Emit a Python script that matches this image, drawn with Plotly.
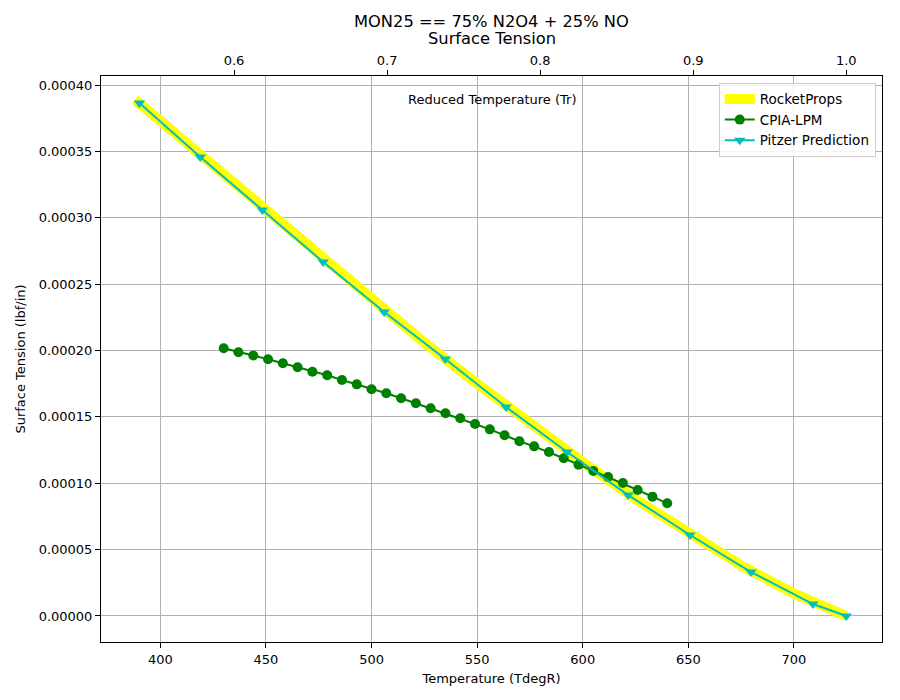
import plotly.graph_objects as go

Tc = 724.8  # critical temperature, degR

# RocketProps curve
rp_T = [388.0, 400.0, 425.0, 450.0, 475.0, 500.0, 525.0, 550.0, 575.0, 600.0, 625.0, 650.0, 675.0, 700.0, 724.8]
rp_st = [3.89e-4, 3.73e-4, 3.39e-4, 3.05e-4, 2.71e-4, 2.38e-4, 2.06e-4, 1.75e-4, 1.45e-4, 1.16e-4,
         8.8e-5, 6.2e-5, 3.8e-5, 1.7e-5, 0.0]

# CPIA-LPM data
cpia_T = [430, 437, 444, 451, 458, 465, 472, 479, 486, 493, 500, 507, 514, 521, 528, 535,
          542, 549, 556, 563, 570, 577, 584, 591, 598, 605, 612, 619, 626, 633, 640]
cpia_st = [2.017e-4, 1.987e-4, 1.962e-4, 1.934e-4, 1.904e-4, 1.874e-4, 1.840e-4, 1.813e-4,
           1.778e-4, 1.745e-4, 1.708e-4, 1.678e-4, 1.640e-4, 1.602e-4, 1.565e-4, 1.527e-4,
           1.489e-4, 1.446e-4, 1.406e-4, 1.361e-4, 1.316e-4, 1.278e-4, 1.235e-4, 1.188e-4,
           1.140e-4, 1.092e-4, 1.047e-4, 1.002e-4, 9.49e-5, 8.99e-5, 8.49e-5]

# Pitzer prediction
pz_T = [390.1, 418.9, 448.3, 477.1, 506.0, 534.9, 563.7, 592.6, 621.5, 650.8, 679.7, 709.0, 724.8]
pz_st = [3.864e-4, 3.458e-4, 3.058e-4, 2.667e-4, 2.290e-4, 1.936e-4, 1.574e-4, 1.235e-4,
         9.11e-5, 6.10e-5, 3.31e-5, 9.0e-6, 0.0]

top_ticks = [0.6, 0.7, 0.8, 0.9, 1.0]
top_labels = ["0.6", "0.7", "0.8", "0.9", "1.0"]
y_ticks = [i * 0.00005 for i in range(9)]

title_lines = ["MON25 == 75% N2O4 + 25% NO", "Surface Tension"]

xmin, xmax = 371.9, 741.7
ymin, ymax = -0.0000196, 0.0004068

FONT = "DejaVu Sans"

fig = go.Figure()
fig.add_trace(go.Scatter(x=rp_T, y=rp_st, mode="lines", name="RocketProps",
                         line=dict(color="#ffff00", width=10)))
fig.add_trace(go.Scatter(x=cpia_T, y=cpia_st, mode="lines+markers", name="CPIA-LPM",
                         line=dict(color="#008000", width=2),
                         marker=dict(symbol="circle", size=10, color="#008000")))
fig.add_trace(go.Scatter(x=pz_T, y=pz_st, mode="lines+markers", name="Pitzer Prediction",
                         line=dict(color="#00bfbf", width=2),
                         marker=dict(symbol="triangle-down", size=10, color="#00bfbf")))
# invisible trace on the reduced temperature axis
fig.add_trace(go.Scatter(x=[t / Tc for t in pz_T], y=pz_st, xaxis="x2", mode="markers",
                         marker=dict(opacity=0), showlegend=False, hoverinfo="skip"))

axis_common = dict(showline=True, linecolor="black", linewidth=1, ticks="outside",
                   ticklen=5, tickcolor="black", tickfont=dict(family=FONT, size=13, color="black"),
                   zeroline=False)

fig.update_layout(
    width=900, height=700,
    margin=dict(l=101, r=18, t=76, b=58),
    paper_bgcolor="white", plot_bgcolor="white",
    font=dict(family=FONT, color="black"),
    xaxis=dict(range=[xmin, xmax], mirror=True, showgrid=True, gridcolor="#b0b0b0",
               dtick=50, tick0=400,
               title=dict(text="Temperature (TdegR)", font=dict(family=FONT, size=13), standoff=8),
               **axis_common),
    xaxis2=dict(range=[xmin / Tc, xmax / Tc], overlaying="x", side="top", anchor="y",
                showgrid=False, tickvals=top_ticks, ticktext=top_labels, **axis_common),
    yaxis=dict(range=[ymin, ymax], mirror=True, showgrid=True, gridcolor="#b0b0b0",
               tickvals=y_ticks, tickformat=".5f",
               title=dict(text="Surface Tension (lbf/in)", font=dict(family=FONT, size=13), standoff=10),
               **axis_common),
    legend=dict(x=0.992, y=0.988, xanchor="right", yanchor="top",
                bgcolor="rgba(255,255,255,0.85)", bordercolor="#cccccc", borderwidth=1,
                font=dict(family=FONT, size=13.5, color="black"), tracegroupgap=0),
    annotations=[
        dict(text="Reduced Temperature (Tr)", x=0.5, y=0.9576, xref="paper", yref="paper",
             xanchor="center", yanchor="middle", showarrow=False,
             font=dict(family=FONT, size=13, color="black")),
        dict(text=title_lines[0], x=0.5, y=(642 - 21.5) / 566, xref="paper", yref="paper",
             xanchor="center", yanchor="middle", showarrow=False,
             font=dict(family=FONT, size=16.3, color="black")),
        dict(text=title_lines[1], x=0.5, y=(642 - 38.5) / 566, xref="paper", yref="paper",
             xanchor="center", yanchor="middle", showarrow=False,
             font=dict(family=FONT, size=16.3, color="black")),
    ],
    showlegend=True,
)

fig.write_html("out.html")
